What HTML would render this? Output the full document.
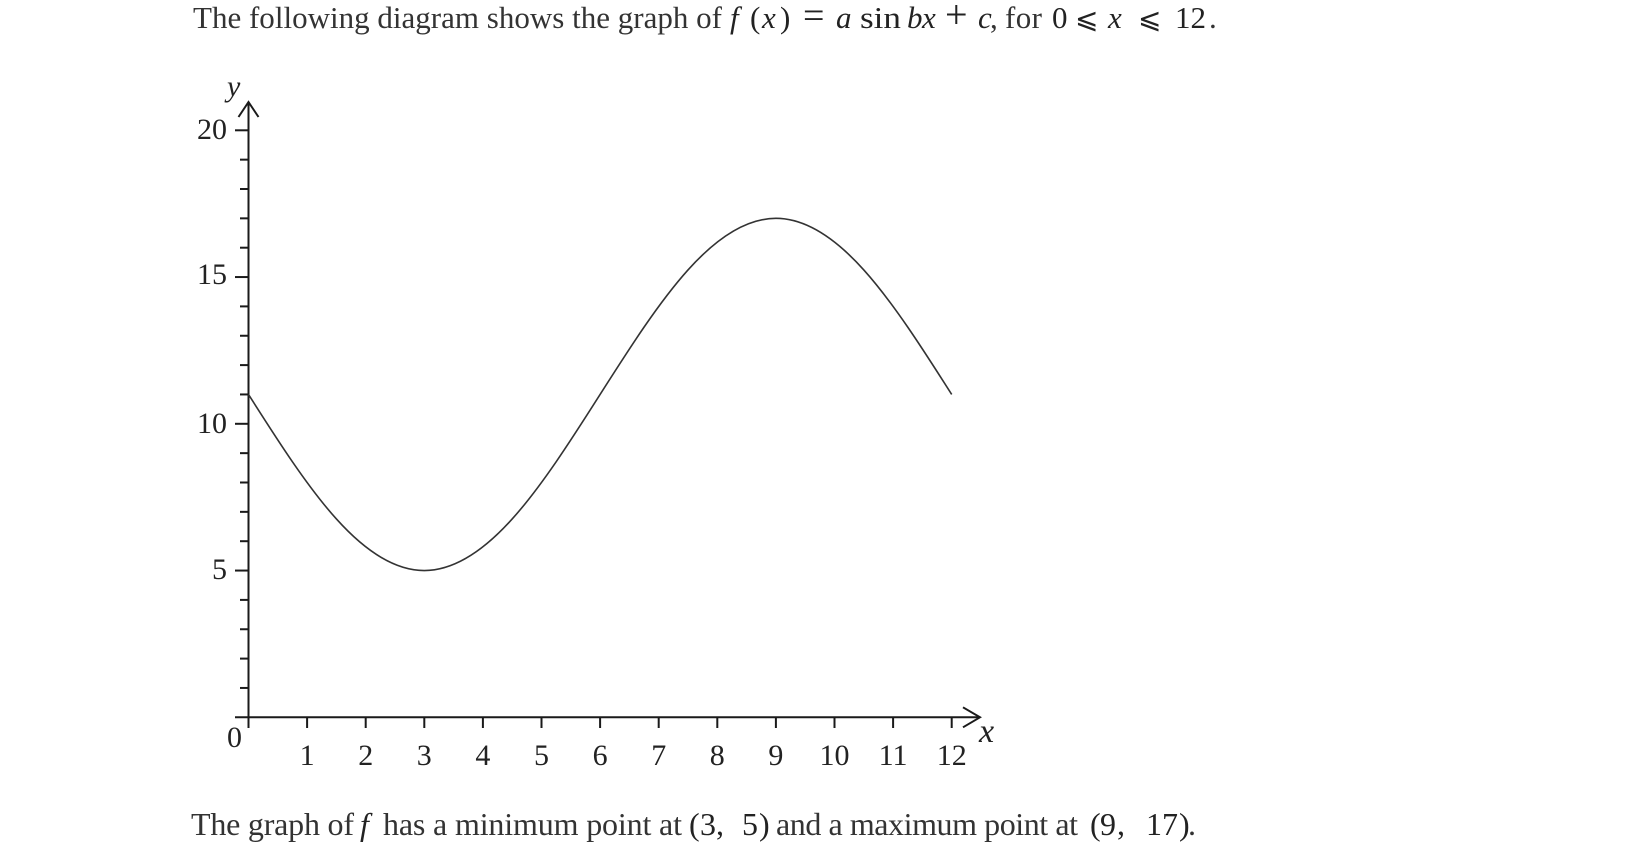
<!DOCTYPE html>
<html>
<head>
<meta charset="utf-8">
<style>
html,body{margin:0;padding:0;background:#fff;}
body{width:1639px;height:850px;overflow:hidden;}
svg{display:block;}
.t{font-family:"Liberation Serif",serif;font-size:31px;fill:#333;}
.b{font-family:"Liberation Serif",serif;font-size:32px;fill:#333;}
.m{font-family:"Liberation Serif",serif;font-size:31px;fill:#222;}
.mb{font-family:"Liberation Serif",serif;font-size:32px;fill:#222;}
.i{font-style:italic;}
.lab{font-family:"Liberation Serif",serif;font-size:30px;fill:#222;}
.le{font-family:"DejaVu Serif","DejaVu Sans",serif;font-size:28px;fill:#222;}
</style>
</head>
<body>
<svg width="1639" height="850" viewBox="0 0 1639 850" xmlns="http://www.w3.org/2000/svg">
  <!-- Top sentence -->
  <text class="t" x="193" y="28" textLength="529" lengthAdjust="spacing">The following diagram shows the graph of</text>
  <text class="m i" x="730" y="28">f</text>
  <text class="m" x="750" y="28">(</text>
  <text class="m i" x="762" y="28">x</text>
  <text class="m" x="780" y="28">)</text>
  <text class="m" x="803" y="28" style="font-size:38px">=</text>
  <text class="m i" x="836" y="28">a</text>
  <text class="m" x="860" y="28" textLength="41" lengthAdjust="spacingAndGlyphs">sin</text>
  <text class="m i" x="907" y="28">b</text>
  <text class="m i" x="922" y="28">x</text>
  <text class="m" x="945" y="28" style="font-size:40px">+</text>
  <text class="m i" x="978" y="28">c</text>
  <text class="t" x="990" y="28">,</text>
  <text class="t" x="1005" y="28" textLength="37" lengthAdjust="spacing">for</text>
  <text class="m" x="1052" y="28">0</text>
  <text class="le" x="1075" y="28">⩽</text>
  <text class="m i" x="1108" y="28">x</text>
  <text class="le" x="1138" y="28">⩽</text>
  <text class="m" x="1175" y="28">12</text>
  <text class="t" x="1209" y="28">.</text>

  <!-- Axes -->
  <g stroke="#1a1a1a" stroke-width="2" fill="none" stroke-linecap="butt">
    <line x1="248.5" y1="102" x2="248.5" y2="728"/>
    <line x1="235" y1="717.3" x2="980" y2="717.3"/>
    <polyline points="238.5,117 248.5,102 258.5,117"/>
    <polyline points="963,707.3 980,717.3 963,727.3"/>
    <!-- y major ticks -->
    <line x1="235" y1="570.55" x2="248.5" y2="570.55"/>
    <line x1="235" y1="423.8" x2="248.5" y2="423.8"/>
    <line x1="235" y1="277.05" x2="248.5" y2="277.05"/>
    <line x1="235" y1="130.3" x2="248.5" y2="130.3"/>
    <!-- y minor ticks -->
    <line x1="240" y1="687.95" x2="248.5" y2="687.95"/>
    <line x1="240" y1="658.6" x2="248.5" y2="658.6"/>
    <line x1="240" y1="629.25" x2="248.5" y2="629.25"/>
    <line x1="240" y1="599.9" x2="248.5" y2="599.9"/>
    <line x1="240" y1="541.2" x2="248.5" y2="541.2"/>
    <line x1="240" y1="511.85" x2="248.5" y2="511.85"/>
    <line x1="240" y1="482.5" x2="248.5" y2="482.5"/>
    <line x1="240" y1="453.15" x2="248.5" y2="453.15"/>
    <line x1="240" y1="394.45" x2="248.5" y2="394.45"/>
    <line x1="240" y1="365.1" x2="248.5" y2="365.1"/>
    <line x1="240" y1="335.75" x2="248.5" y2="335.75"/>
    <line x1="240" y1="306.4" x2="248.5" y2="306.4"/>
    <line x1="240" y1="247.7" x2="248.5" y2="247.7"/>
    <line x1="240" y1="218.35" x2="248.5" y2="218.35"/>
    <line x1="240" y1="189" x2="248.5" y2="189"/>
    <line x1="240" y1="159.65" x2="248.5" y2="159.65"/>
    <!-- x ticks -->
    <line x1="307.1" y1="717.3" x2="307.1" y2="728"/>
    <line x1="365.7" y1="717.3" x2="365.7" y2="728"/>
    <line x1="424.3" y1="717.3" x2="424.3" y2="728"/>
    <line x1="482.9" y1="717.3" x2="482.9" y2="728"/>
    <line x1="541.5" y1="717.3" x2="541.5" y2="728"/>
    <line x1="600.1" y1="717.3" x2="600.1" y2="728"/>
    <line x1="658.7" y1="717.3" x2="658.7" y2="728"/>
    <line x1="717.3" y1="717.3" x2="717.3" y2="728"/>
    <line x1="775.9" y1="717.3" x2="775.9" y2="728"/>
    <line x1="834.5" y1="717.3" x2="834.5" y2="728"/>
    <line x1="893.1" y1="717.3" x2="893.1" y2="728"/>
    <line x1="951.7" y1="717.3" x2="951.7" y2="728"/>
  </g>

  <!-- Curve -->
  <path d="M248.5,394.45 C277.8,440.55 307.1,486.37 336.4,518.97 C365.7,551.57 395.0,570.55 424.3,570.55 C453.6,570.55 482.9,551.57 512.2,518.97 C541.5,486.37 570.8,440.55 600.1,394.45 C629.4,348.35 658.7,302.53 688.0,269.93 C717.3,237.33 746.6,218.35 775.9,218.35 C805.2,218.35 834.5,237.33 863.8,269.93 C893.1,302.53 922.4,348.35 951.7,394.45" fill="none" stroke="#333" stroke-width="1.6"/>

  <!-- Axis labels -->
  <text class="lab i" x="227" y="96">y</text>
  <text class="lab i" x="979" y="742" style="font-size:34px">x</text>
  <text class="lab" x="227" y="139" text-anchor="end">20</text>
  <text class="lab" x="227" y="284" text-anchor="end">15</text>
  <text class="lab" x="227" y="433" text-anchor="end">10</text>
  <text class="lab" x="227" y="579" text-anchor="end">5</text>
  <text class="lab" x="234.5" y="747" text-anchor="middle">0</text>
  <g class="lab" text-anchor="middle">
    <text x="307.1" y="765">1</text>
    <text x="365.7" y="765">2</text>
    <text x="424.3" y="765">3</text>
    <text x="482.9" y="765">4</text>
    <text x="541.5" y="765">5</text>
    <text x="600.1" y="765">6</text>
    <text x="658.7" y="765">7</text>
    <text x="717.3" y="765">8</text>
    <text x="775.9" y="765">9</text>
    <text x="834.5" y="765">10</text>
    <text x="893.1" y="765">11</text>
    <text x="951.7" y="765">12</text>
  </g>

  <!-- Bottom sentence -->
  <text class="b" x="191" y="835" textLength="163" lengthAdjust="spacing">The graph of</text>
  <text class="mb i" x="360" y="835">f</text>
  <text class="b" x="383" y="835" textLength="299" lengthAdjust="spacing">has a minimum point at</text>
  <text class="mb" x="689" y="835">(</text>
  <text class="mb" x="700" y="835">3</text>
  <text class="mb" x="716" y="835">,</text>
  <text class="mb" x="742" y="835">5</text>
  <text class="mb" x="759" y="835">)</text>
  <text class="b" x="776" y="835" textLength="302" lengthAdjust="spacing">and a maximum point at</text>
  <text class="mb" x="1090" y="835">(</text>
  <text class="mb" x="1100" y="835">9</text>
  <text class="mb" x="1117" y="835">,</text>
  <text class="mb" x="1146" y="835">17</text>
  <text class="mb" x="1179" y="835">)</text>
  <text class="b" x="1188" y="835">.</text>
</svg>
</body>
</html>
